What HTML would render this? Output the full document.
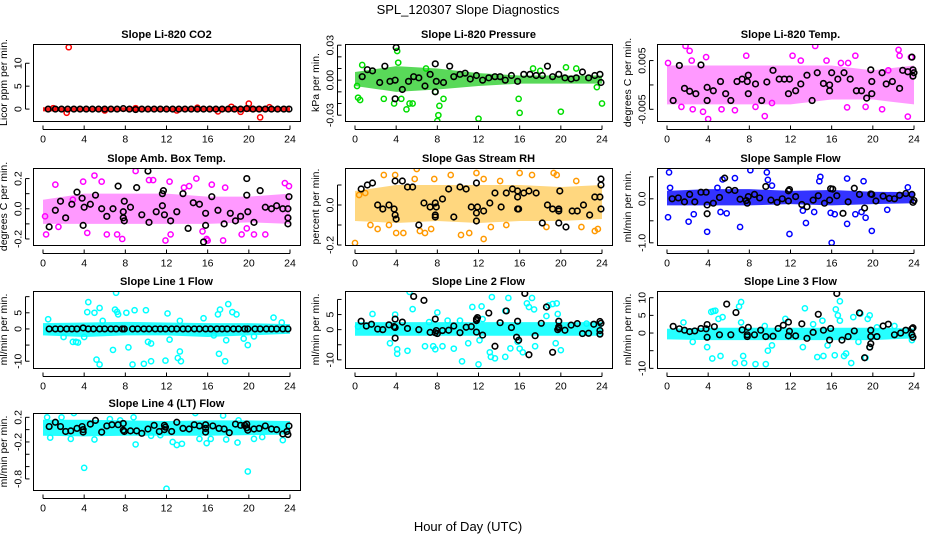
<!DOCTYPE html>
<html><head><meta charset="utf-8">
<style>
html,body{margin:0;padding:0;background:#fff;}
svg{display:block;font-family:"Liberation Sans",Arial,sans-serif;}
</style></head>
<body>
<svg id="chart" width="936" height="540" viewBox="0 0 936 540">
<text x="468" y="14" text-anchor="middle" font-size="13">SPL_120307  Slope Diagnostics</text>
<text x="468" y="531" text-anchor="middle" font-size="13">Hour of Day (UTC)</text>
</svg>
<script>
// ---------- data arrays ----------
const xTicks = [0,4,8,12,16,20,24];
const bandHours = [0,4,8,12,16,20,24];

const co2BandLow  = [-0.5,-0.5,-0.5,-0.5,-0.5,-0.6,-0.5];
const co2BandHigh = [0.4,0.4,0.4,0.4,0.4,0.6,0.4];
const co2Points = [[2.5,13.5],[2.3,-0.8],[20,1.2],[21.1,-1.8],[19.2,-0.6],[17,-0.5],[18.3,0.5],[22,0.4],[1,0.2],[6,-0.3],[9,0.2],[13,-0.3],[15,0.3]];
const co2Black = [[0.5,0],[1.2,0],[1.8,0],[2.4,0],[3,0],[3.6,0],[4.2,0],[4.8,0],[5.4,0],[6,0],[6.6,0],[7.2,0],[7.8,0.1],[8.4,0],[9,-0.1],[9.6,0],[10.2,0],[10.8,0],[11.4,0],[12,0],[12.6,0],[13.2,0],[13.8,0],[14.4,0],[15,0],[15.6,0],[16.2,0],[16.8,0],[17.4,0],[18,0],[18.6,0],[19.2,0],[19.8,0.1],[20.4,0],[21,0],[21.6,0],[22.2,0],[22.8,0],[23.4,0],[23.9,0]];

const presBandLow  = [-0.005,-0.01,-0.008,-0.005,-0.003,-0.003,-0.003];
const presBandHigh = [0.007,0.012,0.01,0.006,0.004,0.004,0.004];
const presPoints = [[0.2,-0.005],[0.3,-0.015],[0.5,-0.017],[0.7,0.013],[3.8,-0.02],[4.1,0.025],[4.2,0.015],[5,-0.025],[5.3,-0.02],[5.6,-0.02],[4.5,-0.016],[7.8,-0.01],[8,-0.035],[8.1,-0.03],[8.2,-0.022],[8.6,-0.016],[12,-0.033],[15.9,-0.016],[16,-0.028],[17.3,0.01],[18,0.008],[20,-0.027],[20.5,0.011],[21.5,0.01],[23.5,-0.006],[24,-0.02],[2.8,-0.016],[6.9,0.01]];
const presBlack = [[4,0.028],[1.2,0.009],[1.7,0.008],[0.7,0.003],[2.4,-0.002],[2.9,0.012],[3.4,-0.001],[3.9,0],[3.9,-0.016],[4.6,-0.008],[5.2,-0.001],[5.7,0.003],[6.2,0.002],[6.8,-0.005],[7.3,0.005],[7.8,-0.01],[7.9,-0.001],[7.8,0.014],[8.6,-0.002],[9.2,0.012],[9.6,0.003],[10.2,0.005],[10.7,0.006],[11.2,0.001],[11.8,0.004],[12.4,0],[13,0.002],[13.6,0.003],[14.1,0.003],[14.6,0],[15.2,0.004],[15.8,-0.001],[16.4,0.005],[17,0.005],[17.6,0.004],[18.2,0.004],[18.7,0.012],[19.2,0.003],[19.8,0.005],[20.4,0.002],[21,0.001],[21.5,0.002],[22.1,0.007],[22.7,0.002],[23.3,0.004],[23.8,0.005],[23.9,-0.002]];

const tempBandLow  = [-0.004,-0.004,-0.004,-0.004,-0.003,-0.003,-0.004];
const tempBandHigh = [0.004,0.004,0.004,0.004,0.004,0.003,0.004];
const tempPoints = [[0.1,0.0045],[1.8,0.008],[2.2,0.007],[2.4,0.005],[3.8,0.0057],[4,-0.007],[3.5,-0.0055],[2.5,-0.005],[1.4,-0.0045],[7.7,0.006],[9.5,-0.0064],[10.2,-0.0037],[12.2,0.006],[13,0.005],[14.4,0.008],[15.5,0.005],[18.3,0.006],[19.3,-0.0045],[20.9,-0.005],[22.5,0.0072],[22.6,0.006],[23.4,-0.0065],[23.7,0.0057],[5.3,-0.005],[6.6,-0.0052],[8.6,-0.0045],[16.9,0.0045],[17.6,0.0045],[21.5,0.003],[17.5,-0.0046]];
const tempBlack = [[1.2,0.004],[0.6,-0.0032],[1.7,-0.0007],[2.2,-0.0013],[2.8,-0.0018],[3.3,0.0041],[3.9,-0.0005],[3.9,-0.0032],[4.5,-0.0012],[5.2,0.0007],[5.7,-0.0018],[6.2,-0.0032],[6.8,0.0007],[7.3,0.0012],[7.8,0.0007],[7.9,0.002],[7.9,-0.0018],[8.6,0.0002],[9.2,-0.0032],[9.7,0.0006],[10.3,0.003],[10.9,0.0012],[11.4,0.0012],[11.8,-0.0018],[11.9,0.0012],[12.5,-0.0012],[13,0.0002],[13.6,0.002],[14.1,-0.0032],[14.6,0.0025],[15.2,0.0003],[15.8,0],[15.8,-0.0012],[16,0.0025],[16.6,0.0012],[17.2,0.0025],[17.8,0.0012],[18.4,-0.0012],[18.9,-0.0012],[19.4,-0.0027],[19.8,0.0031],[19.9,0.0007],[19.9,-0.0018],[20.9,0.0025],[21.3,0.0002],[21.9,0.0007],[22.6,-0.0007],[22.9,0.003],[23.4,0.0027],[23.8,0.0057],[23.9,0.0031],[24,0.0025],[23.9,0.0018]];

const ambBandLow  = [-0.1,-0.1,-0.1,-0.1,-0.1,-0.09,-0.1];
const ambBandHigh = [0.06,0.1,0.1,0.1,0.08,0.08,0.1];
const ambPoints = [[0.3,-0.17],[0.2,-0.05],[1.2,0.16],[2.9,0.06],[3.9,0.18],[5,0.22],[5.7,0.18],[6.2,-0.17],[7.2,-0.17],[7.7,-0.2],[9,0.25],[10.3,0.19],[10.7,0.19],[11.9,-0.21],[12.3,0.18],[12.4,-0.17],[14.2,0.15],[14.9,0.2],[15.5,-0.15],[15.9,-0.2],[16,-0.21],[16.4,0.16],[17.5,-0.21],[17.7,0.14],[19.3,-0.17],[20.5,-0.17],[21.6,-0.17],[23.5,0.17],[23.9,0.15],[1.5,-0.12],[4.3,-0.16],[19.8,-0.13],[13.7,0.14]];
const ambBlack = [[0.6,-0.12],[1.2,-0.01],[1.7,0.05],[2.2,-0.06],[2.8,0.03],[3.3,0.11],[3.8,0.07],[3.9,-0.11],[4,0.01],[4.6,0.03],[5.1,0.09],[5.7,0],[6.2,-0.05],[6.8,0],[7.3,0.15],[7.8,-0.02],[7.8,-0.06],[7.9,-0.08],[7.9,0.05],[8.5,0.01],[9.1,0.14],[9.6,-0.04],[10.2,0.25],[10.3,-0.09],[11,-0.02],[11.6,0.1],[11.7,0.12],[11.8,-0.04],[11.6,0.02],[12.4,-0.08],[13,-0.02],[13.6,0.1],[14.1,-0.13],[14.6,0.04],[15.2,0.03],[15.8,-0.03],[15.8,-0.11],[15.6,-0.22],[16.4,0.08],[17,-0.01],[17.6,-0.1],[18.2,-0.03],[18.7,-0.08],[19.2,-0.05],[19.8,0.2],[19.8,0.09],[19.9,-0.02],[20.5,-0.09],[21.1,0.12],[21.6,0.01],[22.2,0],[22.7,0.02],[23.3,0],[23.8,0],[23.8,-0.06],[23.8,-0.1],[23.9,0.08]];

const rhBandLow  = [-0.08,-0.09,-0.08,-0.09,-0.08,-0.08,-0.07];
const rhBandHigh = [0.07,0.1,0.1,0.1,0.1,0.09,0.1];
const rhPoints = [[0,-0.19],[1,0.06],[1.5,-0.1],[2.2,-0.12],[2.8,0.15],[3.3,-0.1],[3.9,0.15],[4,-0.14],[4.7,-0.14],[5.8,0.13],[6,0.18],[6.3,-0.13],[6.8,-0.14],[7.4,-0.12],[7.7,0.13],[9.3,0.15],[10.3,-0.15],[11.1,-0.14],[11.8,0.16],[12.5,0.13],[12.5,-0.17],[13.2,-0.11],[14.1,0.12],[14.7,-0.1],[16,0.16],[17.2,0.15],[18.6,-0.11],[19.3,0.16],[19.6,0.15],[22,-0.11],[23.3,-0.13],[23.6,-0.12],[0.4,0.05],[21.5,0.12]];
const rhBlack = [[0.6,0.08],[1.2,0.1],[1.7,0.11],[2.2,0],[2.7,-0.02],[3.3,0],[3.8,-0.02],[3.9,0.12],[3.9,-0.05],[4,-0.07],[4.6,0.12],[5.1,0.09],[5.6,0.09],[6.2,-0.1],[6.7,0.01],[7.3,-0.01],[7.8,0.01],[7.9,-0.01],[7.8,-0.05],[7.8,-0.06],[8.5,0.03],[9.1,0.08],[9.6,-0.06],[10.2,0.09],[10.8,0.08],[11.3,-0.01],[11.8,0.11],[11.8,-0.04],[11.8,-0.08],[11.9,-0.01],[12.5,-0.03],[13.1,0.01],[13.6,0.06],[14.2,-0.01],[14.7,0.06],[15.3,0.08],[15.8,0.07],[15.8,0.04],[15.8,-0.02],[15.9,-0.02],[16.4,0.06],[16.9,0.07],[17.6,0.06],[18.2,-0.09],[18.7,0],[19.2,-0.02],[19.8,-0.02],[19.8,-0.03],[19.8,-0.09],[19.9,0.07],[20.5,-0.11],[21.1,-0.03],[21.6,-0.03],[22.2,0],[22.8,-0.05],[23.3,0.04],[23.8,0.04],[23.9,0.13],[23.9,0.1],[23.9,-0.02]];

const sfBandLow  = [-0.15,-0.15,-0.15,-0.12,-0.15,-0.12,-0.1];
const sfBandHigh = [0.18,0.22,0.22,0.18,0.2,0.16,0.15];
const sfPoints = [[0.2,0.6],[0.1,-0.42],[0.3,0.25],[2.1,-0.52],[2.6,-0.35],[3.9,-0.75],[5.2,-0.3],[5.4,0.44],[5.8,-0.33],[6.6,0.47],[7.1,-0.64],[8.1,0.65],[9.7,0.6],[9.8,0.43],[11.9,-0.8],[13.2,-0.27],[13.5,-0.55],[14.3,-0.3],[14.9,0.5],[14.8,0.4],[16,-1.0],[15.9,-0.32],[16.3,-0.35],[17.5,0.46],[17.5,-0.57],[18.3,-0.35],[18.9,-0.3],[19.1,0.4],[19.3,-0.43],[19.9,-0.73],[21.4,-0.25],[23.4,0.26],[4.9,0.25],[10.2,0.3]];
const sfBlack = [[0.5,0],[1.1,0.02],[1.7,-0.07],[2.2,0.1],[2.7,-0.07],[3.3,0.15],[3.8,0.15],[3.9,-0.34],[3.9,-0.14],[4.5,-0.1],[5.1,0.03],[5.6,0.47],[6,0.2],[6.6,0.19],[7.1,-0.01],[7.7,-0.04],[7.8,-0.1],[7.9,0.05],[8.5,0.1],[9,0.02],[9.6,0.28],[10.1,-0.03],[10.7,-0.08],[11.2,0],[11.8,0.18],[11.9,0.21],[11.8,-0.05],[12.5,0.05],[13.1,-0.13],[13.6,-0.18],[14.2,-0.03],[14.7,0.07],[15.3,-0.1],[15.8,-0.03],[15.9,0.23],[16.1,0.22],[16.5,0.07],[17.1,-0.33],[17.6,-0.07],[18.2,0.24],[18.7,0.1],[19.2,-0.21],[19.8,0.11],[19.9,0.1],[20.3,-0.05],[21,0.06],[21.6,0.01],[22.1,0],[22.6,0.08],[23.2,0.12],[23.8,0.1],[23.9,-0.08],[24,-0.04]];

const l1BandLow  = [-2,-2.5,-2,-2,-2.5,-2,-1.5];
const l1BandHigh = [1.8,2,2.2,2,1.8,1.8,1.5];
const l1Points = [[0.5,3],[4.4,8.3],[4.3,5.2],[5,5],[5.2,-9.5],[5.5,-11],[5.5,6.5],[5.8,2.5],[6.8,-6.5],[7.1,11.2],[7,6],[7.2,5.3],[7.3,4.5],[8.1,5],[8.3,-5.7],[8.7,-11],[8.9,5.8],[9.8,-10.8],[10,5.8],[10.2,-4],[10.5,-4.5],[10.5,-10],[11.9,-9.8],[12.1,4.8],[12.3,-3.3],[13.1,-9],[13.3,-7],[13.4,-10],[13.3,2.5],[15.6,3.3],[16.6,-2],[17,4.5],[17.1,-7.7],[17.2,6],[17.7,-10],[17.8,-3.5],[18,7.7],[18.4,5.2],[18.8,4.5],[19.5,-3],[19.9,-5],[20.5,-2.3],[22.4,3.5],[23.2,2],[3.2,-4],[3.4,-4.2],[2.9,-4],[4,-2.5],[2,-2.5]];
const l1Black = [[0.6,0],[1.2,0],[1.7,0],[2.3,0],[2.8,0],[3.3,0],[3.9,0.3],[4.4,0],[4.9,0],[5.5,0],[6,0],[6.6,0],[7.1,0],[7.7,0],[7.9,0],[8.7,0],[9.2,0],[9.8,0],[10.3,0],[10.9,0],[11.4,0],[11.9,0],[12.5,0],[13,0],[13.6,0],[14.1,0],[14.7,0],[15.2,0],[15.8,0],[16.3,0],[16.9,0],[17.4,0],[17.9,0],[18.5,0],[19,0],[19.6,0],[19.9,0],[20.6,0],[21.1,0],[21.7,0],[22.2,0],[22.7,0],[23.3,0],[23.8,0]];

const l2BandLow  = [-2,-2,-2,-2,-2,-2,-2];
const l2BandHigh = [2.5,2.5,2.5,2.5,2.5,2.5,2.5];
const l2Points = [[0.3,1],[1.7,5.2],[3.4,-4.5],[3.9,5],[4.1,-6.5],[4.1,-8],[5.1,-7],[5.3,12.5],[5.6,6.8],[6.8,-5.5],[7.2,2.5],[7.6,-5.5],[7.8,-6.5],[8,5.7],[8.5,-5.5],[9.6,-6.3],[10.4,-10.5],[11,-4.5],[11.4,7.5],[12,-11.5],[12.3,7.7],[12.4,3.5],[12.1,-3.5],[13.1,-7.5],[13.2,-9],[13.3,10.8],[13.6,-9.5],[14.6,-9],[14.9,10.5],[15.1,-6.2],[16,-6.3],[16.3,-7.5],[16.7,8.7],[16.9,7.5],[17.2,10.5],[17.4,6.7],[17.5,-5.5],[18.6,4.5],[18.8,8],[19.2,8.5],[19.5,-4.5],[19.6,8.7],[19.7,5.2],[20,-6.8],[22.5,2],[10.2,3],[9,3],[14.6,6.2],[15.8,-4]];
const l2Black = [[0.6,2.8],[1.1,1.2],[1.6,1.8],[2.2,0.2],[2.7,0],[3.3,1.6],[3.8,1],[3.9,3.5],[3.9,0.7],[3.9,-2.8],[4.6,2.5],[5.1,0.4],[5.7,11],[6.2,0],[6.7,9.7],[7.3,-0.9],[7.8,3.5],[7.8,-1],[7.9,-0.3],[8,-1.3],[8.5,-0.3],[9.1,-0.2],[9.6,1.2],[10.2,-1],[10.8,0.8],[11.3,1],[11.8,-0.8],[11.8,3],[11.9,4],[11.8,3.5],[12.4,-1.8],[13,5.5],[13.6,-5.5],[14.1,2.3],[14.7,6.2],[15.2,0.7],[15.7,-2.5],[15.9,-3.5],[15.8,2.8],[16.5,12],[16.9,-8.3],[17.5,-2],[18.1,2.1],[18.6,7.5],[19.2,-7.5],[19.8,2.8],[19.8,1],[19.7,0],[19.8,0.5],[20.4,-0.2],[21,1.5],[21.6,2],[22.1,-1.3],[22.7,-1.2],[23.2,1.8],[23.8,2.7],[23.8,-0.3],[23.8,-1.5],[23.9,2.1]];

const l3BandLow  = [-1.8,-2,-2,-2,-2,-2,-1.5];
const l3BandHigh = [1.2,1.5,1.5,1.5,1.5,1.5,1.3];
const l3Points = [[1.6,3],[2.5,-2.5],[3.9,-4],[4.3,6],[4.4,-7.2],[4.5,6.2],[4.7,6.3],[5,4],[5.2,-6.5],[5.4,4.5],[6.6,-8.5],[7,7.5],[7.2,8.8],[7.4,-6.5],[7.5,-8.5],[7.2,3],[8.6,-8.8],[9.6,-8.8],[9.8,-5],[10.2,-3.5],[9.5,2],[11.5,4],[13.2,-4],[13.4,7],[14.6,-6.8],[15.1,3.5],[15.2,-6.5],[16.3,-6.3],[16.4,6.7],[16.8,9],[16.6,5],[16.8,3.5],[17.4,-5.8],[17.2,-6.5],[17.9,-8.5],[18.1,4.5],[18.6,-2.5],[18.8,5.5],[19.3,-7],[19.5,4],[19.7,5],[19.7,-4],[20.4,1.6],[23.8,-2],[22.1,2],[14.2,2.5],[15.6,-3.5]];
const l3Black = [[0.6,1.9],[1.2,1.2],[1.7,0.8],[2.2,0.4],[2.7,0.6],[3.3,1.3],[3.8,1.2],[3.9,2.4],[3.9,-1.2],[4.6,1.8],[5.1,-0.5],[5.8,8.2],[6.2,-0.5],[6.7,5.8],[7.3,0.9],[7.9,1.6],[7.8,-0.5],[7.8,-1],[8.5,-0.5],[9.1,0.8],[9.6,-1],[10.3,-0.9],[10.8,1.3],[11.3,2.2],[11.8,3.1],[11.9,0.5],[11.8,-0.8],[12.5,-0.8],[13.1,2.6],[13.6,-1.5],[14.2,0.2],[14.7,5.3],[15.2,0.8],[15.8,-2],[15.9,1.3],[16.5,11.2],[17,-2],[17.6,-1],[18.2,0.6],[18.7,5.7],[19.2,-7],[19.7,-4],[19.8,-3],[19.8,-1],[19.8,0.8],[20.4,-1],[21,2],[21.5,2.5],[22.1,-0.5],[22.7,0],[23.2,0.8],[23.8,1.2],[23.8,-0.5],[23.9,-1.2],[23.9,1.5]];

const l4BandLow  = [-0.1,-0.11,-0.1,-0.1,-0.1,-0.09,-0.08];
const l4BandHigh = [0.16,0.16,0.15,0.14,0.15,0.15,0.14];
const l4Points = [[0.4,0.2],[0.7,-0.13],[1.8,0.2],[2.7,-0.15],[3,0.27],[4,-0.62],[5,-0.16],[9,-0.24],[10.5,-0.1],[11.4,-0.09],[12,-0.96],[12.6,-0.2],[13,-0.25],[13.5,-0.23],[14.8,0.27],[15.2,-0.15],[15.9,-0.22],[16.3,-0.15],[17.5,0.23],[17.8,-0.16],[18.9,-0.21],[19.9,-0.68],[20.5,-0.15],[21.3,-0.12],[23.3,-0.17],[8.8,0.2],[19,0.15],[6.5,0.17],[7.5,0.15]];
const l4Black = [[0.6,0.05],[1.2,0.12],[1.7,0.05],[2.2,-0.03],[2.7,-0.02],[3.3,0.02],[3.8,0.05],[3.9,0],[3.9,-0.04],[4.6,0.09],[5.1,0.15],[5.7,-0.04],[6.2,0.06],[6.7,0.08],[7.3,0.08],[7.8,0.1],[7.8,-0.01],[7.9,-0.03],[8.5,-0.02],[9.1,-0.02],[9.6,-0.06],[10.2,0.01],[10.8,0.07],[11.3,-0.03],[11.8,0.07],[11.9,0.04],[11.8,0],[12.5,-0.03],[13,0.12],[13.6,0.02],[14.2,0.01],[14.7,0.08],[15.2,0.06],[15.8,0.08],[15.8,0.02],[15.8,-0.04],[16.5,0.06],[17.1,0.02],[17.6,0.01],[18.1,-0.05],[18.7,0.09],[19.2,0.07],[19.6,0.07],[19.8,0.03],[19.9,-0.01],[19.8,0.09],[20.5,0.01],[21,0.02],[21.6,0.06],[22.2,0.01],[22.7,0],[23.3,-0.07],[23.7,-0.03],[23.8,-0.08],[23.9,0.06]];

const panels = [
 {key:'co2',title:'Slope Li-820 CO2',ylab:'Licor ppm per min.',col:0,row:0,ymin:-2.6,ymax:14.2,ticks:[0,5,10],labels:['0','5','10'],color:'#ff0000',band:'#ff0000',bo:0.9,lo:co2BandLow,hi:co2BandHigh,pts:co2Points,blk:co2Black},
 {key:'pressure',title:'Slope Li-820 Pressure',ylab:'kPa per min.',col:1,row:0,ymin:-0.035,ymax:0.031,ticks:[-0.03,-0.02,-0.01,0,0.01,0.02,0.03],labels:['-0.03','','','0.00','','','0.03'],color:'#00dd00',band:'#22cc22',bo:0.75,lo:presBandLow,hi:presBandHigh,pts:presPoints,blk:presBlack},
 {key:'temp',title:'Slope Li-820 Temp.',ylab:'degrees C per min.',col:2,row:0,ymin:-0.0074,ymax:0.0084,ticks:[-0.005,0,0.005],labels:['-0.005','','0.005'],color:'#ff00ff',band:'#ff00ff',bo:0.4,lo:tempBandLow,hi:tempBandHigh,pts:tempPoints,blk:tempBlack},
 {key:'amb-temp',title:'Slope Amb. Box Temp.',ylab:'degrees C per min.',col:0,row:1,ymin:-0.24,ymax:0.27,ticks:[-0.2,-0.1,0,0.1,0.2],labels:['-0.2','','0.0','','0.2'],color:'#ff00ff',band:'#ff00ff',bo:0.4,lo:ambBandLow,hi:ambBandHigh,pts:ambPoints,blk:ambBlack},
 {key:'rh',title:'Slope Gas Stream RH',ylab:'percent per min.',col:1,row:1,ymin:-0.2,ymax:0.185,ticks:[-0.2,-0.1,0,0.1],labels:['-0.2','','0.0',''],color:'#ff9900',band:'#ffb000',bo:0.5,lo:rhBandLow,hi:rhBandHigh,pts:rhPoints,blk:rhBlack},
 {key:'sample-flow',title:'Slope Sample Flow',ylab:'ml/min per min.',col:2,row:1,ymin:-1.05,ymax:0.7,ticks:[-1,-0.5,0,0.5],labels:['-1.0','','0.0',''],color:'#0000ff',band:'#0000ff',bo:0.8,lo:sfBandLow,hi:sfBandHigh,pts:sfPoints,blk:sfBlack},
 {key:'line1-flow',title:'Slope Line 1 Flow',ylab:'ml/min per min.',col:0,row:2,ymin:-12.1,ymax:11.75,ticks:[-10,-5,0,5,10],labels:['-10','','0','5',''],color:'#00ffff',band:'#00ffff',bo:0.85,lo:l1BandLow,hi:l1BandHigh,pts:l1Points,blk:l1Black},
 {key:'line2-flow',title:'Slope Line 2 Flow',ylab:'ml/min per min.',col:1,row:2,ymin:-12.7,ymax:12.8,ticks:[-10,-5,0,5,10],labels:['-10','','0','5',''],color:'#00ffff',band:'#00ffff',bo:0.85,lo:l2BandLow,hi:l2BandHigh,pts:l2Points,blk:l2Black},
 {key:'line3-flow',title:'Slope Line 3 Flow',ylab:'ml/min per min.',col:2,row:2,ymin:-9.9,ymax:11.9,ticks:[-10,-5,0,5,10],labels:['-10','','0','5','10'],color:'#00ffff',band:'#00ffff',bo:0.85,lo:l3BandLow,hi:l3BandHigh,pts:l3Points,blk:l3Black},
 {key:'line4-flow',title:'Slope Line 4 (LT) Flow',ylab:'ml/min per min.',col:0,row:3,ymin:-0.98,ymax:0.27,ticks:[-0.8,-0.6,-0.4,-0.2,0,0.2],labels:['-0.8','','','-0.2','','0.2'],color:'#00ffff',band:'#00ffff',bo:0.85,lo:l4BandLow,hi:l4BandHigh,pts:l4Points,blk:l4Black}
];

// ---------- rendering ----------
const NS='http://www.w3.org/2000/svg';
const svg=document.getElementById('chart');
const colLeft=[33,345,657], rowTop=[44,168,291,413], PW=267, PH=77;
function mk(tag,attrs,parent){const e=document.createElementNS(NS,tag);for(const k in attrs)e.setAttribute(k,attrs[k]);parent.appendChild(e);return e;}

panels.forEach(p=>{
  const L=colLeft[p.col], T=rowTop[p.row];
  const xs=h=>L+10+h*(PW-20)/24;
  const ys=v=>T+PH-(v-p.ymin)/(p.ymax-p.ymin)*PH;
  const g=mk('g',{},svg);
  
  
  const clipId='clip-'+p.key;
  const cp=mk('clipPath',{id:clipId},g); mk('rect',{x:L,y:T,width:PW,height:PH},cp);
  const title=mk('text',{x:L+PW/2,y:T-6,'text-anchor':'middle','font-size':'11','font-weight':'bold'},g);
  title.textContent=p.title;
  
  
  const plot=mk('g',{'clip-path':'url(#'+clipId+')'},g);
  let d='';
  bandHours.forEach((h,i)=>{d+=(i?'L':'M')+xs(h)+','+ys(p.hi[i]);});
  for(let i=bandHours.length-1;i>=0;i--) d+='L'+xs(bandHours[i])+','+ys(p.lo[i]);
  const band=mk('path',{d:d+'Z',fill:p.band,'fill-opacity':p.bo,stroke:'none'},plot);
  
  
  p.pts.forEach(pt=>{
    const c=mk('circle',{cx:xs(pt[0]),cy:ys(pt[1]),r:2.6,fill:'none',stroke:p.color,'stroke-width':1.5},plot);
    
    
  });
  p.blk.forEach(pt=>{
    const c=mk('circle',{cx:xs(pt[0]),cy:ys(pt[1]),r:2.8,fill:'none',stroke:'#000','stroke-width':1.6},plot);
    
    
  });
  const fr=mk('rect',{x:L+0.5,y:T+0.5,width:PW,height:PH,fill:'none',stroke:'#000','stroke-width':1},g);
  
  
  const xa=mk('g',{},g);
  
  
  const by=T+PH+0.5;
  mk('line',{x1:xs(0),x2:xs(24),y1:by+8,y2:by+8,stroke:'#000'},xa);
  xTicks.forEach(t=>{
    mk('line',{x1:xs(t),x2:xs(t),y1:by+8,y2:by+4,stroke:'#000'},xa);
    const tx=mk('text',{x:xs(t),y:by+21,'text-anchor':'middle','font-size':'10.5'},xa);
    tx.textContent=String(t);
  });
  const ya=mk('g',{},g);
  
  
  const ax=L-7.5;
  mk('line',{x1:ax,x2:ax,y1:ys(p.ticks[0]),y2:ys(p.ticks[p.ticks.length-1]),stroke:'#000'},ya);
  p.ticks.forEach((t,i)=>{
    mk('line',{x1:ax,x2:ax+4,y1:ys(t),y2:ys(t),stroke:'#000'},ya);
    if(p.labels[i]){
      const tx=mk('text',{x:ax-4,y:ys(t),'text-anchor':'middle','font-size':'10.5',transform:`rotate(-90 ${ax-4} ${ys(t)})`},ya);
      tx.textContent=p.labels[i];
    }
  });
  const yl=mk('text',{x:L-26,y:T+PH/2,'text-anchor':'middle','font-size':'10.5',transform:`rotate(-90 ${L-26} ${T+PH/2})`},g);
  yl.textContent=p.ylab;
  
  
});
</script>
</body></html>
